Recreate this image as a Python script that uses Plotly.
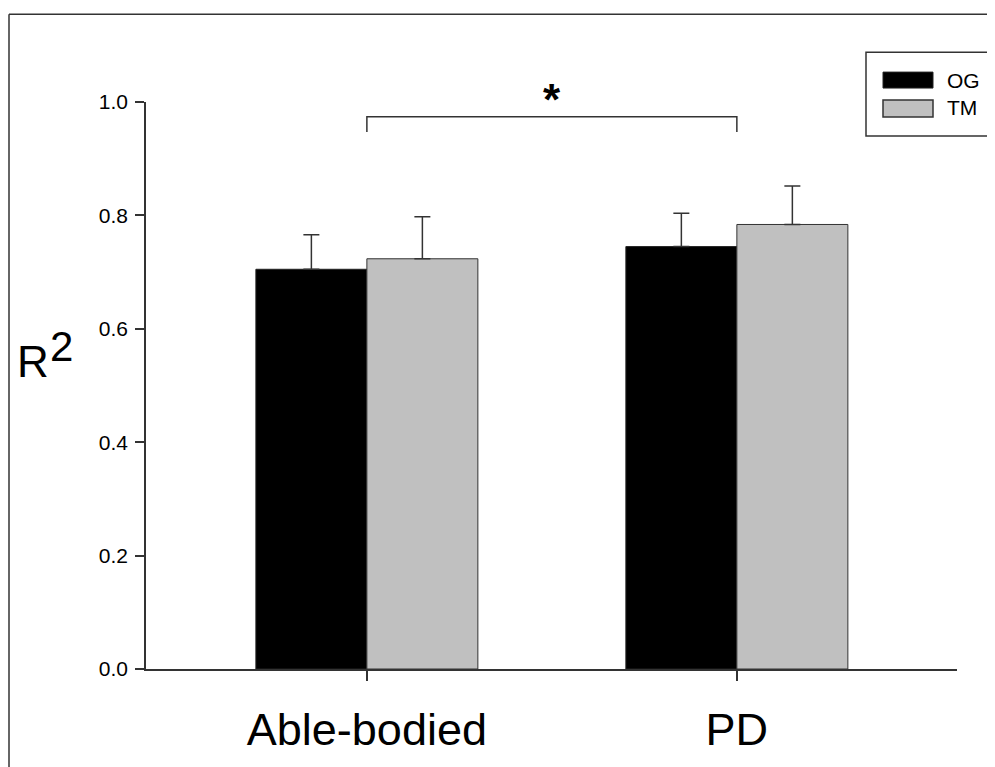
import plotly.graph_objects as go

# ---- data ----
categories = ["Able-bodied", "PD"]
og_values = [0.705, 0.745]
og_errors = [0.061, 0.059]
tm_values = [0.7235, 0.784]
tm_errors = [0.074, 0.068]
y_ticks = [0.0, 0.2, 0.4, 0.6, 0.8, 1.0]
series_names = ["OG", "TM"]

OFF = 8  # page body margin
W, H = 995 - OFF, 767 - OFF
L, R, T, B = 146 - OFF, 957 - OFF, 102 - OFF, 671 - OFF  # plot area in figure px
FONT = "Liberation Sans, Arial, sans-serif"
AX = "#333333"


def px(x):
    """reference-screenshot x pixel -> paper coordinate"""
    return (x - OFF - L) / (R - L)


def py(y):
    """reference-screenshot y pixel -> paper coordinate"""
    return (B - (y - OFF)) / (B - T)


fig = go.Figure()
fig.add_trace(go.Bar(
    x=categories, y=og_values, name=series_names[0],
    marker=dict(color="#000000", line=dict(color="#222222", width=1)),
    error_y=dict(type="data", symmetric=False, array=og_errors,
                 arrayminus=[0, 0], color=AX, thickness=1.5, width=8),
))
fig.add_trace(go.Bar(
    x=categories, y=tm_values, name=series_names[1],
    marker=dict(color="#c0c0c0", line=dict(color="#333333", width=1)),
    error_y=dict(type="data", symmetric=False, array=tm_errors,
                 arrayminus=[0, 0], color=AX, thickness=1.5, width=8),
))

shapes = []
# outer frame (top and left)
shapes.append(dict(type="line", xref="paper", yref="paper",
                   x0=px(9), x1=px(1000), y0=py(14), y1=py(14),
                   line=dict(color=AX, width=1.5)))
shapes.append(dict(type="line", xref="paper", yref="paper",
                   x0=px(9), x1=px(9), y0=py(14), y1=py(770),
                   line=dict(color=AX, width=1.5)))
# significance bracket
shapes.append(dict(type="path", xref="x", yref="y",
                   path="M 0,0.947 L 0,0.974 L 1,0.974 L 1,0.947",
                   line=dict(color=AX, width=1.5)))
# legend box
shapes.append(dict(type="rect", xref="paper", yref="paper",
                   x0=px(866), x1=px(1000), y0=py(52), y1=py(136),
                   line=dict(color=AX, width=1.5), fillcolor="white"))
shapes.append(dict(type="rect", xref="paper", yref="paper",
                   x0=px(883), x1=px(933), y0=py(72), y1=py(88),
                   line=dict(color="#222222", width=1), fillcolor="#000000"))
shapes.append(dict(type="rect", xref="paper", yref="paper",
                   x0=px(883), x1=px(933), y0=py(100), y1=py(117),
                   line=dict(color="#333333", width=1.5), fillcolor="#c0c0c0"))

annotations = [
    dict(text="*", xref="x", yref="paper", x=0.5, y=py(99), showarrow=False,
         xanchor="center", yanchor="middle",
         font=dict(family=FONT, size=44, color="black", weight="bold")),
    dict(text=series_names[0], xref="paper", yref="paper", x=px(945), y=py(80),
         showarrow=False, xanchor="left", yanchor="middle",
         font=dict(family=FONT, size=21, color="black")),
    dict(text=series_names[1], xref="paper", yref="paper", x=px(945), y=py(108),
         showarrow=False, xanchor="left", yanchor="middle",
         font=dict(family=FONT, size=21, color="black")),
    dict(text="R", xref="paper", yref="paper", x=px(15), y=py(362),
         showarrow=False, xanchor="left", yanchor="middle",
         font=dict(family=FONT, size=44, color="black")),
    dict(text="2", xref="paper", yref="paper", x=px(48), y=py(347),
         showarrow=False, xanchor="left", yanchor="middle",
         font=dict(family=FONT, size=42, color="black")),
]

fig.update_layout(
    width=W, height=H,
    margin=dict(l=L, r=W - R, t=T, b=H - B, pad=0),
    paper_bgcolor="white", plot_bgcolor="white",
    barmode="group", bargap=0.4, bargroupgap=0,
    showlegend=False,
    shapes=shapes, annotations=annotations,
    font=dict(family=FONT, color="black"),
)
fig.update_xaxes(
    type="category", range=[-0.597, 1.595],
    showline=True, linecolor=AX, linewidth=1.5,
    ticks="outside", ticklen=10, tickwidth=1.5, tickcolor=AX,
    tickfont=dict(family=FONT, size=45, color="black"),
    ticklabelstandoff=10,
    showgrid=False, zeroline=False,
)
fig.update_yaxes(
    range=[0, 1.0], tickvals=y_ticks, tickformat=".1f",
    showline=True, linecolor=AX, linewidth=1.5,
    ticks="outside", ticklen=9, tickwidth=1.5, tickcolor=AX,
    tickfont=dict(family=FONT, size=21, color="black"),
    ticklabelstandoff=3,
    showgrid=False, zeroline=False,
)

fig.write_html("out.html")
